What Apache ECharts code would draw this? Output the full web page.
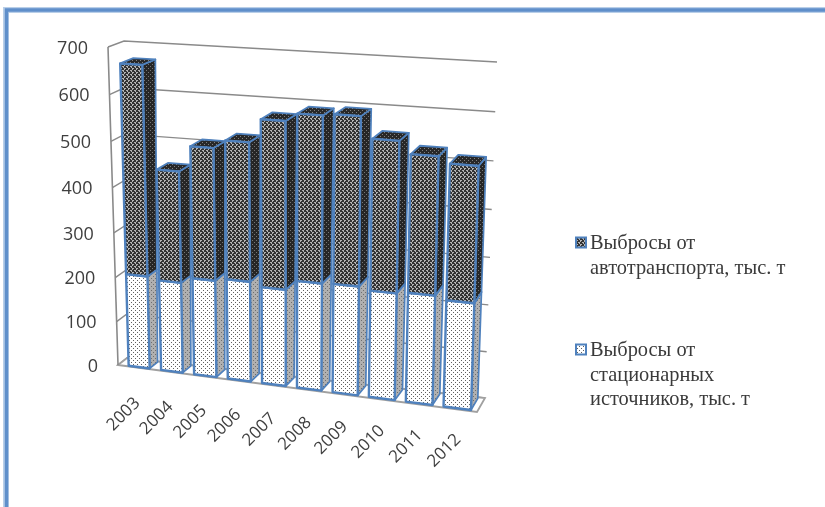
<!DOCTYPE html>
<html><head><meta charset="utf-8">
<style>html,body{margin:0;padding:0;background:#fff}#c{width:825px;height:507px;filter:blur(0.45px)}</style>
<script src="https://cdn.jsdelivr.net/npm/echarts@6/dist/echarts.min.js"></script>
</head><body><div id="c"></div>
<script>
const years = ['2003','2004','2005','2006','2007','2008','2009','2010','2011','2012'];
const stationary = [209,203,216,222,213,235,237,231,235,228];
const transport = [457,243,286,298,357,352,354,316,287,281];
const yTicks = [0,100,200,300,400,500,600,700];
const nameTransport = 'Выбросы от\nавтотранспорта, тыс. т';
const nameStationary = 'Выбросы от\nстационарных\nисточников, тыс. т';

// perspective frame of the chart box
const FRONT = [[118,365],[477,412],[488,70],[108,47]];
const BACK  = [[127,358],[485,398],[497,62],[124,41]];
function quad(q){
  const [x0,y0]=q[0],[x1,y1]=q[1],[x2,y2]=q[2],[x3,y3]=q[3];
  const dx1=x1-x2,dx2=x3-x2,dx3=x0-x1+x2-x3,dy1=y1-y2,dy2=y3-y2,dy3=y0-y1+y2-y3;
  const den=dx1*dy2-dx2*dy1,g=(dx3*dy2-dx2*dy3)/den,h=(dx1*dy3-dx3*dy1)/den;
  const a=x1-x0+g*x1,b=x3-x0+h*x3,d=y1-y0+g*y1,e=y3-y0+h*y3;
  return (u,v)=>{const k=g*u+h*v+1;return [(a*u+b*v+x0)/k,(d*u+e*v+y0)/k];};
}
const pf=quad(FRONT), pb=quad(BACK);
function P(u,v,w){const a=pf(u,v),c=pb(u,v);return [a[0]+(c[0]-a[0])*w,a[1]+(c[1]-a[1])*w];}
function ease(u){const t=u-0.5;return u-0.0156*t+0.02*t*t;}

function tile(base,dot,dots,w,h){
  const c=document.createElement('canvas');c.width=w;c.height=h;
  const x=c.getContext('2d');x.fillStyle=base;x.fillRect(0,0,w,h);x.fillStyle=dot;
  dots.forEach(d=>x.fillRect(d[0],d[1],1,1));
  return {image:c,repeat:'repeat'};
}
const hex=[[0,0],[1,0],[0,1],[2,2],[3,2],[3,3]];
const sp=[[1,0],[3,2]];
const PAT={
  darkFront:tile('#333333','#b4b4b4',hex,4,4),
  darkSide:tile('#262626','#777777',[[0,0],[2,2]],4,4),
  darkTop:tile('#282828','#808080',[[0,0],[2,2]],4,4),
  lightFront:tile('#ffffff','#606060',sp,4,4),
  lightSide:tile('#b0b0b0','#6e6e6e',sp,4,4),
  lightTop:tile('#dddddd','#666666',sp,4,4)
};
const BLUE='#4f81bd';

function uv(params,api,cat,val){
  const r=params.coordSys, p=api.coord([cat,val]);
  return [(p[0]-r.x)/r.width,1-(p[1]-r.y)/r.height];
}
function poly(pts,fill,lw,z2){
  return {type:'polygon',z2:z2,shape:{points:pts},style:{fill:fill,stroke:BLUE,lineWidth:lw,lineJoin:'round'}};
}
function barItem(front,side,top){
  return function(params,api){
    const i=api.value(0),lo=uv(params,api,i,api.value(1)),hi=uv(params,api,i,api.value(2));
    const c=ease(lo[0]), hw=0.031+0.005*c, u0=c-hw, u1=c+hw, w0=0.08, w1=0.92;
    const a=lo[1],b=hi[1];
    return {type:'group',children:[
      poly([P(u1,a,w0),P(u1,a,w1),P(u1,b,w1),P(u1,b,w0)],side,1.7,1),
      poly([P(u0,b,w0),P(u1,b,w0),P(u1,b,w1),P(u0,b,w1)],top,1.8,2),
      poly([P(u0,a,w0),P(u1,a,w0),P(u1,b,w0),P(u0,b,w0)],front,2.4,3)
    ]};
  };
}
const GRAY='#8a8a8a';
function wallItem(params,api){
  const t=uv(params,api,0,api.value(0))[1];
  const pts=[P(0,t,0),P(0,t,1),P(1,t,1)];
  const lab=P(0,t,0);
  return {type:'group',children:[
    {type:'polyline',shape:{points:pts},style:{fill:'none',stroke:GRAY,lineWidth:1.4}},
    {type:'text',x:lab[0]-20,y:lab[1]+1.5,style:{text:String(yTicks[params.dataIndex]),align:'right',verticalAlign:'middle',
      font:'18px "Open Sans"',fill:'#3f3f3f'}}
  ]};
}
function floorItem(params,api){
  const i=api.value(0),c=ease(uv(params,api,i,0)[0]);
  const p=P(c,0,0);
  const kids=[{type:'text',x:p[0]-15+3*c,y:p[1]+47-6*c,rotation:Math.PI/4,style:{text:years[i],align:'center',verticalAlign:'middle',
    font:'17px "Open Sans"',fill:'#3f3f3f'}}];
  if(i===0){
    kids.push({type:'polygon',shape:{points:[P(0,0,0),P(1,0,0),P(1,0,1),P(0,0,1)]},style:{fill:'#fff',stroke:'#a0a0a0',lineWidth:1.8}});
    kids.push({type:'line',shape:{x1:P(0,0,0)[0],y1:P(0,0,0)[1],x2:P(0,1,0)[0],y2:P(0,1,0)[1]},style:{stroke:GRAY,lineWidth:1.6}});
  }
  return {type:'group',children:kids};
}
const legendEl=(y,name,pat)=>[
  {type:'rect',shape:{x:576,y:y-5,width:10,height:10},style:{fill:pat,stroke:BLUE,lineWidth:2}},
  {type:'text',x:590,y:y-11,style:{text:name,font:'20.4px "Liberation Serif"',lineHeight:24.5,fill:'#3a3a3a',align:'left',verticalAlign:'top'}}
];
const chart=echarts.init(document.getElementById('c'),null,{renderer:'canvas'});
chart.setOption({
  animation:false,
  backgroundColor:'#fff',
  grid:{left:100,right:100,top:50,bottom:50},
  xAxis:{type:'category',data:years,show:false},
  yAxis:{type:'value',min:0,max:700,interval:100,show:false},
  graphic:[
    {type:'rect',z:-1,shape:{x:6,y:10,width:860,height:560},style:{fill:'none',stroke:'#b9cfe8',lineWidth:6}},
    {type:'rect',z:-1,shape:{x:6.5,y:10,width:860,height:560},style:{fill:'none',stroke:'#5f8fca',lineWidth:3.5}},
    ...legendEl(242.5,nameTransport,PAT.darkFront),
    ...legendEl(349.5,nameStationary,PAT.lightFront)
  ],
  series:[
    {type:'custom',name:'walls',z:1,renderItem:wallItem,data:yTicks.map(v=>[v]),silent:true},
    {type:'custom',name:'floor',z:2,renderItem:floorItem,data:years.map((y,i)=>[i]),silent:true},
    {type:'custom',name:nameStationary,z:3,renderItem:barItem(PAT.lightFront,PAT.lightSide,PAT.lightTop),
      data:years.map((y,i)=>[i,0,stationary[i]])},
    {type:'custom',name:nameTransport,z:4,renderItem:barItem(PAT.darkFront,PAT.darkSide,PAT.darkTop),
      data:years.map((y,i)=>[i,stationary[i],stationary[i]+transport[i]])}
  ]
});
</script></body></html>
